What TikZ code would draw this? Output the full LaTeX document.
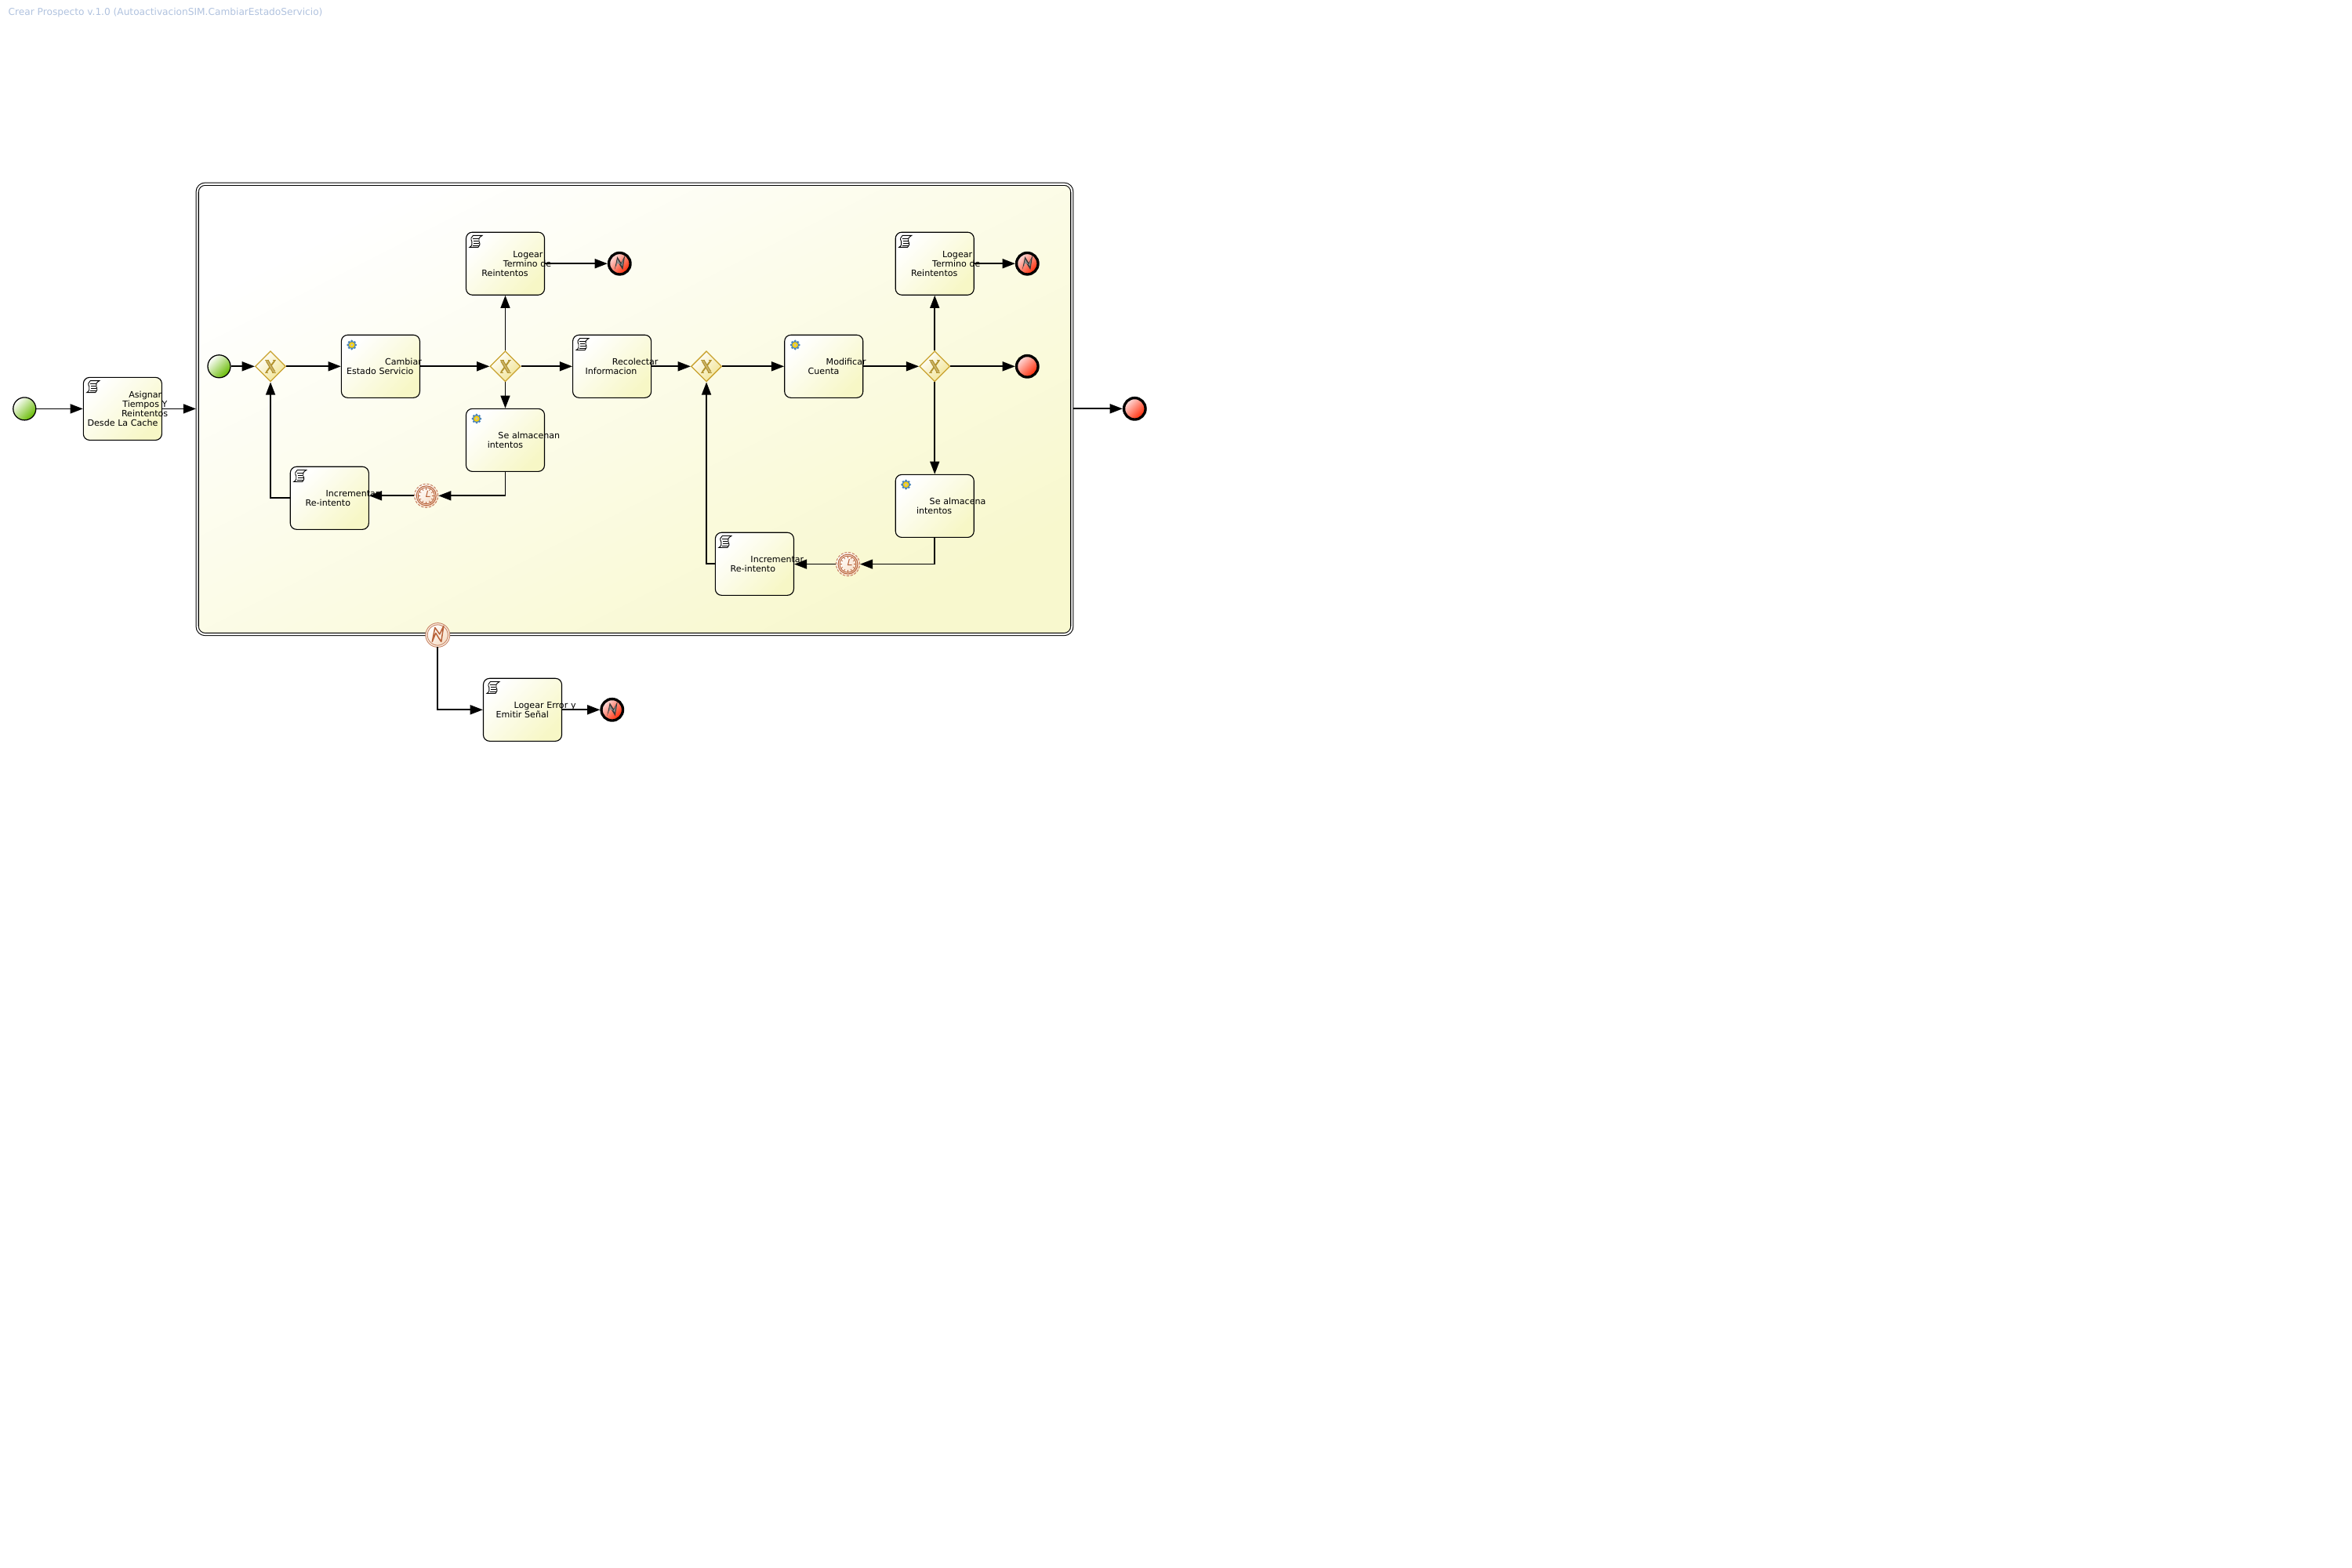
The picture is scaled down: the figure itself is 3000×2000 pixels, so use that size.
\documentclass[tikz,border=0pt]{standalone}
\usepackage{fontspec}
\setmainfont{DejaVu Sans}
\usetikzlibrary{arrows.meta,calc,shapes.geometric}

\definecolor{taskyellow}{HTML}{F7F7C6}
\definecolor{subyellow}{HTML}{F8F8CE}
\definecolor{submid}{HTML}{FBFBDC}
\definecolor{gwgold}{HTML}{C9A22E}
\definecolor{gwfill}{HTML}{F1E391}
\definecolor{gwmark}{HTML}{B3932F}
\definecolor{rust}{HTML}{B8623A}
\definecolor{peach}{HTML}{F6DCC4}
\definecolor{titleblue}{HTML}{B0C2DE}

\newlength{\pxunit}
\setlength{\pxunit}{0.01cm}
\newcommand{\taskline}[2]{\hspace*{#1\pxunit}\mbox{#2}}

\tikzset{
    flow/.style={-{Triangle[length=4.6pt,width=3.4pt]}, line width=.5pt},
    task/.style={draw, line width=.32pt, rounded corners=.08cm, minimum width=1cm, minimum height=.8cm,
        text width=1cm, align=left, inner xsep=0pt, inner ysep=0pt,
        font=\fontsize{3.15pt}{3.41pt}\selectfont,
        top color=white, bottom color=taskyellow, shading angle=45},
    startev/.style={circle, draw, line width=.36pt, minimum size=.29cm, inner sep=0pt,
        top color=white, bottom color=green!55!black!60!yellow, shading angle=45},
    endev/.style={circle, draw, line width=.95pt, minimum size=.275cm, inner sep=0pt,
        top color=red!12, bottom color=red!70!orange, shading angle=45},
    gateway/.style={diamond, aspect=1, draw=gwgold, line width=.36pt, minimum size=.39cm, inner sep=0pt,
        top color=white, bottom color=gwfill, shading angle=45},
    timer/.style={circle, draw=rust!80, line width=.3pt, dash pattern=on .9pt off .5pt, minimum size=.3cm, inner sep=0pt,
        top color=white, bottom color=peach, shading angle=45},
    boundary/.style={circle, draw=rust!80, line width=.28pt, double=peach!50, double distance=.36pt, minimum size=.285cm, inner sep=0pt,
        top color=white, bottom color=peach, shading angle=45},
    scripticon/.pic={
        \draw[line width=.26pt, fill=white] (-3.5,-7.5) -- (8,-7.5) .. controls (4,-5) and (3,-3) .. (4,0)
            .. controls (6,3) and (5,6) .. (3,7.5) -- (-8,7.5) .. controls (-5,6) and (-4,3) .. (-5,0)
            .. controls (-7,-3) and (-6,-6) .. (-3.5,-7.5) -- cycle;
        \draw[line width=.2pt] (-4,-4) -- (4,-4) (-3,-1) -- (3,-1) (-3,2) -- (4.5,2) (-4,5) -- (4,5);
    },
    gearicon/.pic={
        \foreach \a in {0,45,...,315} \fill[blue!45!cyan!60!black!70] (\a:4.9) circle[radius=.017cm];
        \fill[blue!50!cyan!60!black!70] (0,0) circle[radius=.05cm];
        \fill[yellow!70!orange] (0,0) circle[radius=.037cm];
        \fill[black!25] (0,0) circle[radius=.018cm];
    },
    xmark/.pic={
        \draw[gwmark, line width=1.15pt] (-4.5,-7.5) -- (4.5,7.5);
        \draw[gwmark, line width=.55pt] (5.5,-7.5) -- (-5.5,7.5);
        \draw[gwmark!70!white, line width=.45pt] (-4.5,-7.5) -- (4.5,7.5);
        \draw[gwmark, line width=.3pt] (-7,-8) -- (-2,-8) (3,-8) -- (7,-8) (-7,8) -- (-3,8) (2,8) -- (7,8);
    },
    boltdark/.pic={
        \fill[black!78] (-6.5,8) -- (-3,-9) -- (2,-1) -- (7,-11) -- (4,8) -- (1.5,4) -- (-2.5,-2.5) -- cycle;
        \fill[black!45] (-4.5,4) -- (-2.8,-5.5) -- (1.8,1.5) -- (5,-6) -- (3.6,3.5) -- (1.6,1) -- (-2.6,-.5) -- cycle;
    },
    boltrust/.pic={
        \draw[rust, line width=.42pt, line join=round] (-7,8.5) -- (-3.5,-9.5) -- (2.5,-1) -- (7.5,-11.5) -- (4.5,8.5) -- (1.5,4) -- (-2.5,-2.5) -- cycle;
    },
    clockface/.pic={
        \draw[rust, line width=.3pt] (0,0) circle[radius=.125cm];
        \draw[rust, line width=.25pt] (0,0) circle[radius=.105cm];
        \foreach \a in {0,30,...,330} \draw[rust, line width=.2pt] (\a:7.5) -- (\a:10.5);
        \draw[rust, line width=.3pt] (1.8,-6.5) -- (0,1) -- (5,1);
    }
}

\begin{document}
\begin{tikzpicture}[x=.01cm, y=-.01cm]
    \useasboundingbox (0,0) rectangle (3000,2000);

    \node[anchor=west, inner sep=0pt, text=titleblue, font=\fontsize{3.46pt}{3.8pt}\selectfont] (title) at (10,16) {Crear Prospecto v.1.0 (AutoactivacionSIM.CambiarEstadoServicio)};

    \node[startev] (start) at (31.3,521.4) {};
    \node[task, right of=start, node distance=1.25cm] (asignar) {\taskline{58}{Asignar}\\\taskline{50}{Tiempos Y}\\\taskline{48.7}{Reintentos}\\\taskline{5.3}{Desde La Cache}};

    % subprocess frame
    \node[draw, double, line width=.3pt, double distance=.6pt, outer sep=.017cm, rounded corners=.1cm, minimum width=11.15cm, minimum height=5.74cm, top color=white, middle color=submid, bottom color=subyellow, shading angle=27] (sub) at (809.5,521.9) {};
    \node[endev] (endSub) at (1447.3,521.3) {};

    % first half
    \node[startev] (subStart) at (279.5,467.3) {};
    \node[gateway, right of=subStart, node distance=.655cm] (gw1) {};
    \node[task, right of=gw1, node distance=1.403cm] (cambiar) {\taskline{55.7}{Cambiar}\\\taskline{6.7}{Estado Servicio}};
    \node[gateway, right of=cambiar, node distance=1.59cm] (gw2) {};
    \node[task, above of=gw2, node distance=1.31cm] (logearA) {\taskline{60}{Logear}\\\taskline{47.4}{Termino de}\\\taskline{20}{Reintentos}};
    \node[endev, right of=logearA, node distance=1.457cm] (endA) {};
    \node[task, below of=gw2, node distance=.94cm] (almacenA) {\taskline{41}{Se almacenan}\\\taskline{27.4}{intentos}};
    \node[timer] (timerA) at (543.7,632.3) {};
    \node[task] (incrA) at (420.3,635.3) {\taskline{45.4}{Incrementar}\\\taskline{19.4}{Re-intento}};

    % second half
    \node[task, right of=gw2, node distance=1.36cm] (recolectar) {\taskline{50.4}{Recolectar}\\\taskline{16}{Informacion}};
    \node[gateway, right of=recolectar, node distance=1.204cm] (gw3) {};
    \node[task, right of=gw3, node distance=1.496cm] (modificar) {\taskline{53}{Modificar}\\\taskline{30}{Cuenta}};
    \node[gateway, right of=modificar, node distance=1.414cm] (gw4) {};
    \node[task, above of=gw4, node distance=1.31cm] (logearB) {\taskline{60}{Logear}\\\taskline{47}{Termino de}\\\taskline{20}{Reintentos}};
    \node[endev, right of=logearB, node distance=1.18cm] (endB) {};
    \node[endev, right of=gw4, node distance=1.18cm] (endOk) {};
    \node[task, below of=gw4, node distance=1.78cm] (almacenB) {\taskline{43.5}{Se almacena}\\\taskline{26.8}{intentos}};
    \node[timer] (timerB) at (1081.5,719.6) {};
    \node[task] (incrB) at (962.4,719.3) {\taskline{45.1}{Incrementar}\\\taskline{19.3}{Re-intento}};

    % error path
    \node[boundary] (bound) at (558.3,810) {};
    \node[task] (logearErr) at (666.5,905.3) {\taskline{39.2}{Logear Error y}\\\taskline{16.2}{Emitir Señal}};
    \node[endev, right of=logearErr, node distance=1.142cm] (endErr) {};

    % markers
    \foreach \n in {asignar,logearA,incrA,recolectar,logearB,incrB,logearErr}
        \pic at ($(\n.north west)+(13,12.3)$) {scripticon};
    \foreach \n in {cambiar,almacenA,modificar,almacenB}
        \pic at ($(\n.north west)+(14,13.3)$) {gearicon};
    \foreach \n in {gw1,gw2,gw3,gw4}
        \pic at (\n) {xmark};
    \foreach \n in {endA,endB,endErr}
        \pic at (\n) {boltdark};
    \foreach \n in {timerA,timerB}
        \pic at (\n) {clockface};
    \pic at (bound) {boltrust};

    \draw[flow] (start) -- (asignar);
    \draw[flow] (asignar) -- (sub.west |- asignar);
    \draw[flow] (sub.east |- endSub) -- (endSub);

    \draw[flow] (subStart) -- (gw1);
    \draw[flow] (gw1) -- (cambiar);
    \draw[flow] (cambiar) -- (gw2);
    \draw[flow] (gw2) -- (logearA);
    \draw[flow] (logearA) -- (endA);
    \draw[flow] (gw2) -- (almacenA);
    \draw[flow] (gw2) -- (recolectar);
    \draw[flow] (almacenA.south) |- (timerA.east);
    \draw[flow] (timerA.west) -- (incrA.east |- timerA);
    \draw[flow] (incrA.west) -| (gw1.south);

    \draw[flow] (recolectar) -- (gw3);
    \draw[flow] (gw3) -- (modificar);
    \draw[flow] (modificar) -- (gw4);
    \draw[flow] (gw4) -- (logearB);
    \draw[flow] (logearB) -- (endB);
    \draw[flow] (gw4) -- (endOk);
    \draw[flow] (gw4) -- (almacenB);
    \draw[flow] (almacenB.south) |- (timerB.east);
    \draw[flow] (timerB.west) -- (incrB.east |- timerB);
    \draw[flow] (incrB.west) -| (gw3.south);

    \draw[flow] (bound.south) |- (logearErr.west);
    \draw[flow] (logearErr) -- (endErr);
\end{tikzpicture}
\end{document}
